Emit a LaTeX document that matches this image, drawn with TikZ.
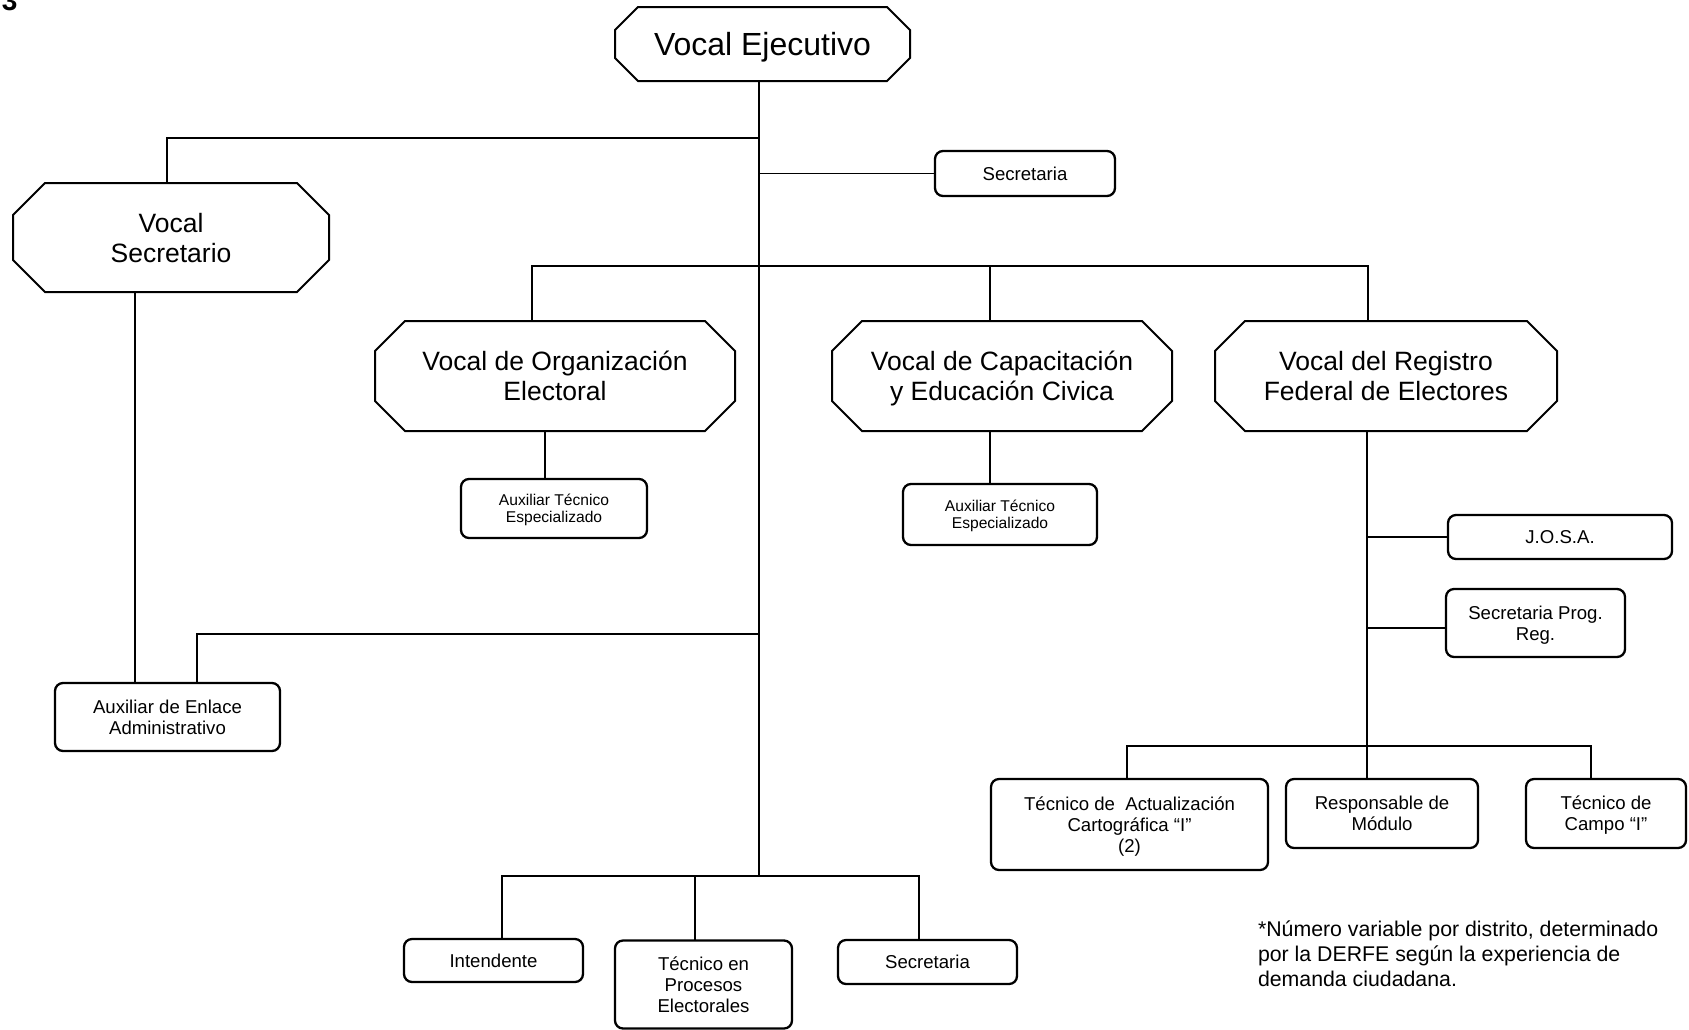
\documentclass[tikz,border=0pt]{standalone}
\usepackage{fontspec}
\setmainfont{Liberation Sans}
\newcommand\myve{\fontsize{16}{19}\selectfont}
\newcommand\myvo{\fontsize{13.25}{15}\selectfont}
\newcommand\mysm{\fontsize{9.3}{10.6}\selectfont}
\newcommand\myate{\fontsize{7.8}{8.6}\selectfont}
\newcommand\mynote{\fontsize{10.65}{12.5}\selectfont}
\newcommand\octdraw[2]{\draw[octline] ([xshift=#2]#1.north west) -- ([xshift=-#2]#1.north east) -- ([yshift=-#2]#1.north east) -- ([yshift=#2]#1.south east) -- ([xshift=-#2]#1.south east) -- ([xshift=#2]#1.south west) -- ([yshift=#2]#1.south west) -- ([yshift=-#2]#1.north west) -- cycle;}
\begin{document}
\begin{tikzpicture}[x=0.5pt,y=-0.5pt,
  every node/.style={inner sep=0pt, outer sep=0pt},
  octline/.style={line width=1pt, line join=miter},
  vtext/.style={align=center, font=\myvo, text depth=0pt},
  box/.style={draw, rounded corners=4pt, line width=1.15pt, align=center, font=\mysm, text depth=0pt},
  main/.style={line width=1pt},
  thin/.style={line width=0.75pt}]
\useasboundingbox (0,0) rectangle (1689,1029);
\node[font=\bfseries\fontsize{14}{14}\selectfont, anchor=base west] (num) at (2,10.5) {3};
% octagons
\node[vtext, font=\myve, minimum width=147.5pt, minimum height=37pt] (VE) at (762.5,44) {Vocal Ejecutivo};
\octdraw{VE}{11.5pt}
\node[vtext, minimum width=158pt, minimum height=54.5pt] (VS) at (171,237.5) {Vocal\\Secretario};
\octdraw{VS}{16pt}
\node[vtext, minimum width=180pt, minimum height=55pt] (VO) at (555,376) {Vocal de Organización\\Electoral};
\octdraw{VO}{15pt}
\node[vtext, minimum width=170pt, minimum height=55pt] (VC) at (1002,376) {Vocal de Capacitación\\y Educación Civica};
\octdraw{VC}{15pt}
\node[vtext, minimum width=171pt, minimum height=55pt] (VR) at (1386,376) {Vocal del Registro\\Federal de Electores};
\octdraw{VR}{15pt}
% boxes
\node[box, minimum width=90pt, minimum height=22.5pt] (S1) at (1025,173.5) {Secretaria};
\node[box, font=\myate, minimum width=93pt, minimum height=29.5pt] (A1) at (554,508.5) {Auxiliar Técnico\\Especializado};
\node[box, font=\myate, minimum width=97pt, minimum height=30.5pt] (A2) at (1000,514.5) {Auxiliar Técnico\\Especializado};
\node[box, minimum width=112pt, minimum height=22pt] (JO) at (1560,537) {J.O.S.A.};
\node[box, minimum width=89.5pt, minimum height=34pt] (SP) at (1535.5,623) {Secretaria Prog.\\Reg.};
\node[box, minimum width=112.5pt, minimum height=34pt] (AE) at (167.5,717) {Auxiliar de Enlace\\Administrativo};
\node[box, minimum width=138.5pt, minimum height=45.5pt] (TA) at (1129.5,824.5) {Técnico de~ Actualización\\Cartográfica “I”\\(2)};
\node[box, minimum width=96pt, minimum height=34.5pt] (RM) at (1382,813.5) {Responsable de\\Módulo};
\node[box, minimum width=80pt, minimum height=34.5pt] (TC) at (1606,813.5) {Técnico de\\Campo “I”};
\node[box, minimum width=89.5pt, minimum height=21.5pt] (IN) at (493.5,960.5) {Intendente};
\node[box, minimum width=88.5pt, minimum height=44pt] (TP) at (703.5,984.5) {Técnico en\\Procesos\\Electorales};
\node[box, minimum width=89.5pt, minimum height=22pt] (S2) at (927.5,962) {Secretaria};
% note
\node[align=left, anchor=west, font=\mynote] (note) at (1258,954) {*Número variable por distrito, determinado\\por la DERFE según la experiencia de\\demanda ciudadana.};
% connectors
\coordinate (T) at (759,876);
\draw[main] (VE.south -| T) -- (T);
\coordinate (J1) at (759,138);
\draw[main] (J1) -| ([xshift=-2pt]VS.north);
\draw[thin] (T |- S1.west) -- (S1.west);
\coordinate (B1L) at (532,266);
\coordinate (B1M) at (990,266);
\coordinate (B1R) at (1368,266);
\draw[main] (B1L |- VO.north) -- (B1L) -- (B1R) -- (B1R |- VR.north);
\draw[main] (B1M) -- (B1M |- VC.north);
\draw[thin] ([xshift=-4.5pt]A1.north) -- ([xshift=-4.5pt]A1.north |- VO.south);
\draw[thin] ([xshift=-5pt]A2.north) -- ([xshift=-5pt]A2.north |- VC.south);
\coordinate (B2) at (1367,746);
\draw[main] (VR.south -| B2) -- (B2);
\draw[thin] (B2 |- JO.west) -- (JO.west);
\draw[thin] ([yshift=-2.5pt]B2 |- SP.west) -- ([yshift=-2.5pt]SP.west);
\coordinate (B2L) at (1127,746);
\coordinate (B2R) at (1591,746);
\draw[thin] (B2L |- TA.north) -- (B2L) -- (B2R) -- (B2R |- TC.north);
\draw[thin] (B2) -- (B2 |- RM.north);
\draw[main] ([xshift=-16.25pt]AE.north) -- ([xshift=-16.25pt]AE.north |- VS.south);
\coordinate (J2) at (759,634);
\draw[thin] (J2) -| ([xshift=14.75pt]AE.north);
\coordinate (B3L) at (502,876);
\coordinate (B3M) at (695,876);
\coordinate (B3R) at (919,876);
\draw[thin] (B3L |- IN.north) -- (B3L) -- (B3R) -- (B3R |- S2.north);
\draw[thin] (B3M) -- (B3M |- TP.north);
\end{tikzpicture}
\end{document}
